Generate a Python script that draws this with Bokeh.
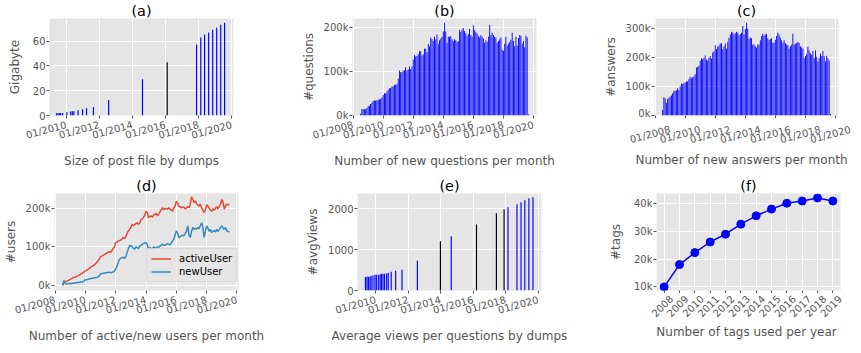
import math
import datetime as dt
import pandas as pd
from bokeh.plotting import figure
from bokeh.layouts import row, column
from bokeh.models import (Range1d, FixedTicker, CustomJSTickFormatter, PrintfTickFormatter)
from bokeh.core.properties import value
from bokeh.embed import file_html
from bokeh.resources import INLINE

# ---------------- data ----------------
# (a) size of the posts file per dump (GB)
size_dump_dates = ["2009-06-01", "2009-07-01", "2009-08-01", "2009-09-01", "2009-10-15",
                   "2010-01-15", "2010-04-10", "2010-05-15", "2010-06-20", "2010-09-20",
                   "2010-12-28", "2011-03-25", "2011-08-25", "2012-07-25", "2014-08-10",
                   "2016-02-05", "2017-11-15", "2018-02-15", "2018-05-10", "2018-08-08",
                   "2018-11-05", "2019-02-01", "2019-05-01", "2019-07-25"]
size_gb = [1.9, 1.9, 2.0, 2.0, 2.1, 2.7, 3.2, 3.4, 3.5, 4.3, 5.1, 5.9, 6.9, 12.5, 29.3,
           42.9, 57.3, 62.9, 65.3, 66.9, 69.3, 70.9, 73.3, 74.9]
size_dark_dumps = ["2016-02-05"]          # bars drawn in black in the original

# (b) new questions per month (thousands), Jul 2008 .. Sep 2019
month_first = "2008-07-01"
questions_k = [
    4, 15, 14, 14, 15, 17,
    21, 22, 26, 29, 33, 34, 34, 35, 36, 37, 38, 41,
    47, 51, 50, 55, 59, 62, 63, 66, 67, 70, 70, 72,
    84, 103, 99, 100, 102, 104, 110, 103, 105, 112, 106, 112,
    128, 138, 135, 136, 140, 147, 147, 137, 140, 153, 152, 145,
    163, 158, 178, 174, 170, 180, 174, 185, 164, 172, 176, 180,
    192, 212, 192, 166, 180, 180, 181, 174, 170, 174, 172, 168,
    170, 195, 191, 196, 200, 193, 188, 182, 186, 198, 184, 180,
    206, 195, 190, 187, 182, 178, 184, 180, 176, 166, 172, 168,
    180, 207, 183, 189, 184, 180, 178, 166, 170, 174, 178, 150,
    148, 164, 180, 159, 164, 168, 173, 189, 170, 158, 180, 160,
    177, 184, 182, 164, 170, 155, 182, 178, 3]

# (c) new answers per month (thousands), Jul 2008 .. Sep 2019
answers_k = [
    19, 63, 60, 44, 57, 61,
    66, 69, 77, 85, 86, 87, 94, 88, 100, 111, 109, 112,
    115, 118, 118, 125, 134, 129, 132, 136, 143, 166, 168, 172,
    189, 198, 195, 200, 208, 194, 189, 200, 206, 197, 218, 222,
    243, 230, 238, 242, 249, 250, 229, 240, 249, 231, 255, 269,
    280, 290, 286, 281, 285, 290, 286, 278, 282, 286, 310, 281,
    300, 320, 301, 265, 270, 267, 246, 246, 240, 235, 246, 246,
    260, 275, 283, 277, 280, 283, 267, 261, 265, 267, 252, 252,
    262, 275, 286, 279, 270, 260, 252, 260, 250, 246, 243, 231,
    240, 246, 283, 246, 248, 251, 255, 251, 240, 235, 231, 200,
    206, 212, 238, 226, 215, 210, 223, 200, 226, 203, 187, 200,
    214, 206, 223, 205, 187, 207, 198, 190, 5]

# (d) active / new users per month (thousands), Jul 2008 .. Jul 2019
active_user_k = [
    2, 8, 10, 11, 12, 14,
    16, 18, 20, 21, 22, 24, 25, 27, 29, 31, 33, 35,
    38, 40, 42, 44, 47, 49, 51, 53, 56, 60, 63, 68,
    75, 76, 78, 80, 82, 84, 86, 87, 86, 90, 96, 100,
    111, 112, 115, 116, 118, 120, 124, 122, 126, 135, 141, 145,
    150, 158, 155, 157, 160, 162, 158, 162, 170, 172, 176, 182,
    192, 188, 175, 178, 180, 176, 182, 184, 186, 180, 184, 190,
    195, 201, 196, 199, 198, 197, 201, 197, 195, 192, 200, 205,
    218, 212, 205, 203, 200, 203, 202, 198, 200, 204, 201, 210,
    229, 222, 214, 218, 212, 208, 205, 210, 200, 195, 188, 195,
    209, 205, 200, 195, 192, 198, 194, 200, 203, 198, 205, 210,
    222, 215, 197, 205, 210, 209, 207]
new_user_k = [
    0, 13, 5, 4, 4, 5,
    5, 5, 6, 6, 7, 7, 8, 8, 9, 9, 10, 12,
    15, 15, 16, 17, 18, 18, 19, 20, 20, 21, 22, 25,
    30, 31, 32, 32, 33, 33, 34, 34, 33, 34, 35, 37,
    43, 50, 60, 68, 70, 72, 73, 70, 75, 85, 95, 103,
    103, 100, 96, 94, 100, 98, 95, 102, 104, 106, 108, 110,
    111, 105, 94, 98, 96, 95, 100, 97, 98, 100, 98, 102,
    104, 107, 105, 103, 106, 108, 107, 105, 110, 115, 120, 130,
    141, 135, 124, 126, 128, 130, 128, 135, 140, 154, 130, 124,
    140, 150, 145, 148, 145, 150, 147, 155, 162, 150, 124, 140,
    154, 148, 140, 145, 137, 140, 142, 138, 145, 140, 145, 150,
    154, 148, 145, 150, 141, 140, 138]

# (e) average views per question by dump
views_dump_dates = ["2009-05-15", "2009-06-20", "2009-07-20", "2009-08-25", "2009-09-20",
                    "2009-11-01", "2009-12-15", "2010-01-15", "2010-03-01", "2010-04-10",
                    "2010-05-10", "2010-06-15", "2010-07-20", "2010-09-05", "2010-10-10",
                    "2010-12-15", "2011-03-25", "2011-08-15", "2012-07-25", "2013-12-25",
                    "2014-08-25", "2016-03-15", "2017-06-05", "2017-11-25", "2018-02-20",
                    "2018-09-10", "2018-12-10", "2019-03-05", "2019-06-05", "2019-09-05"]
avg_views = [330, 336, 336, 340, 360, 369, 385, 385, 385, 395, 410, 410, 410, 418, 434,
             459, 484, 508, 730, 1205, 1328, 1615, 1893, 1992, 2041, 2115, 2164, 2213,
             2262, 2287]
views_dark_dumps = ["2013-12-25", "2016-03-15", "2017-06-05", "2017-11-25"]

# (f) number of tags used per year (thousands)
tag_years = [2008, 2009, 2010, 2011, 2012, 2013, 2014, 2015, 2016, 2017, 2018, 2019]
tags_k = [10.0, 18.0, 22.3, 26.1, 28.9, 32.5, 35.5, 37.9, 40.0, 40.8, 41.9, 40.8]

# ---------------- styling helpers ----------------
FONT = "DejaVu Sans"
BG = "#E5E5E5"
GREY = "#555555"
BLUE = "#0000FF"
RED = "#E24A33"
LBLUE = "#348ABD"
DAY_MS = 86400000.0
ROT = math.radians(15)


def yr(f):
    y = int(math.floor(f))
    a = dt.datetime(y, 1, 1)
    b = dt.datetime(y + 1, 1, 1)
    return a + (b - a) * (f - y)


def ms(d):
    return (d - dt.datetime(1970, 1, 1)).total_seconds() * 1000.0


def xr(a, b):
    return Range1d(ms(yr(a)), ms(yr(b)))


TICK_YEARS = list(range(2008, 2021, 2))
DATE_TICKS = [ms(dt.datetime(y, 1, 1)) for y in TICK_YEARS]
DATE_LABELS = ["01/%d" % y for y in TICK_YEARS]
DATE_FMT = """
const d = new Date(tick);
const m = String(d.getUTCMonth() + 1).padStart(2, '0');
return m + '/' + d.getUTCFullYear();
"""

FW, FH = 184, 97
COL = [(49, 65), (49, 64), (49, 17)]
ROW = [(16, 59), (19, 49)]
STRIP_H = [56, 46]
STRIP_EXTRA = 8          # strip may run into the page's right margin


def style_axis(ax):
    ax.axis_line_color = None
    ax.major_tick_line_color = GREY
    ax.major_tick_out = 3
    ax.major_tick_in = 0
    ax.minor_tick_line_color = None
    ax.major_label_text_font = FONT
    ax.major_label_text_font_size = "10px"
    ax.major_label_text_color = GREY
    ax.axis_label_text_font = FONT
    ax.axis_label_text_font_size = "12px"
    ax.axis_label_text_color = GREY
    ax.axis_label_text_font_style = "normal"


def make_fig(title, xlabel, ylabel, x_range, y_range, col, rw, ylab_standoff=5,
             datetime=True, strip=False):
    bl, br = COL[col]
    bt, bb = ROW[rw]
    if strip:
        bb = 3
    kw = dict(x_axis_type="datetime") if datetime else {}
    p = figure(frame_width=FW, frame_height=FH, x_range=x_range, y_range=y_range,
               output_backend="svg", toolbar_location=None, frame_align=False,
               min_border_left=bl, min_border_right=br, min_border_top=bt,
               min_border_bottom=bb, background_fill_color=BG,
               border_fill_color="white", outline_line_color=None, title=title, **kw)
    p.title.align = "center"
    p.title.text_font = FONT
    p.title.text_font_size = "14.4px"
    p.title.text_font_style = "normal"
    p.title.text_color = "black"
    p.title.standoff = 0
    p.grid.grid_line_color = "white"
    p.grid.grid_line_width = 1
    for ax in p.axis:
        style_axis(ax)
    p.yaxis.major_label_standoff = 1
    p.yaxis.axis_label_standoff = ylab_standoff
    p.yaxis.axis_label = ylabel
    if strip:
        # tick marks only; the labels are drawn centred in a strip below
        p.xaxis.major_label_text_color = None
        p.xaxis.major_label_standoff = 0
        p.xaxis.axis_label_standoff = 0
    else:
        p.xaxis.major_label_standoff = 6
        p.xaxis.axis_label_standoff = 5
        p.xaxis.axis_label = xlabel
    if datetime:
        p.xaxis.ticker = FixedTicker(ticks=DATE_TICKS)
        p.xaxis.formatter = CustomJSTickFormatter(code=DATE_FMT)
        p.xaxis.major_label_orientation = ROT
    return p


def make_strip(main, col, rw, ticks, labels, angle, lab_y, xlabel, xlab_y):
    """Blank strip under a panel: centred, rotated tick labels + the x label."""
    bl, br = COL[col]
    fig_w = bl + FW + br + STRIP_EXTRA
    h = STRIP_H[rw]
    xs, xe = main.x_range.start, main.x_range.end
    per_px = (xe - xs) / FW
    s0 = xs - bl * per_px
    s = figure(frame_width=fig_w, frame_height=h, x_range=Range1d(s0, s0 + fig_w * per_px),
               y_range=Range1d(h, 0), output_backend="svg", toolbar_location=None,
               frame_align=False, min_border=0, min_border_left=0, min_border_right=0,
               min_border_top=0, min_border_bottom=0,
               x_axis_location=None, y_axis_location=None,
               outline_line_color=None, background_fill_color="white",
               border_fill_color="white")
    for g in s.grid:
        g.visible = False
    s.text(x=ticks, y=[lab_y] * len(ticks), text=labels, angle=angle,
           text_align="center", text_baseline="middle", text_font=value(FONT),
           text_font_size="10px", text_color=GREY)
    s.text(x=[(xs + xe) / 2.0], y=[xlab_y], text=[xlabel], text_align="center",
           text_baseline="middle", text_font=value(FONT), text_font_size="12px",
           text_color=GREY)
    return s


def bar_colors(dates, dark):
    return ["black" if d in dark else BLUE for d in dates]


months_bc = pd.date_range(month_first, periods=len(questions_k), freq="MS")
months_d = pd.date_range(month_first, periods=len(active_user_k), freq="MS")

# (a)
pa = make_fig("(a)", "Size of post file by dumps", "Gigabyte",
              xr(2008.99, 2020.1), Range1d(0, 78.3), 0, 0, ylab_standoff=8)
pa.vbar(x=pd.to_datetime(size_dump_dates), top=size_gb, width=26 * DAY_MS,
        color=bar_colors(size_dump_dates, size_dark_dumps), line_color=None)
pa.yaxis.ticker = FixedTicker(ticks=[0, 20, 40, 60])

# (b)
pb = make_fig("(b)", "Number of new questions per month", "#questions",
              xr(2007.96, 2020.2), Range1d(0, 221.5), 1, 0)
pb.vbar(x=months_bc, top=questions_k, width=22 * DAY_MS, color=BLUE, line_color=None)
pb.yaxis.ticker = FixedTicker(ticks=[0, 100, 200])
pb.yaxis.formatter = PrintfTickFormatter(format="%dk")

# (c)
pc = make_fig("(c)", "", "#answers", xr(2007.96, 2020.2), Range1d(0, 335.6), 2, 0,
              strip=True)
pc.vbar(x=months_bc, top=answers_k, width=22 * DAY_MS, color=BLUE, line_color=None)
pc.yaxis.ticker = FixedTicker(ticks=[0, 100, 200, 300])
pc.yaxis.formatter = PrintfTickFormatter(format="%dk")
sc = make_strip(pc, 2, 0, DATE_TICKS, DATE_LABELS, ROT, 16,
                "Number of new answers per month", 41)

# (d)
pd_ = make_fig("(d)", "Number of active/new users per month", "#users",
               xr(2007.96, 2020.1), Range1d(-12.8, 237.6), 0, 1)
pd_.line(months_d, active_user_k, color=RED, line_width=1.5, legend_label="activeUser")
pd_.line(months_d, new_user_k, color=LBLUE, line_width=1.5, legend_label="newUser")
pd_.yaxis.ticker = FixedTicker(ticks=[0, 100, 200])
pd_.yaxis.formatter = PrintfTickFormatter(format="%dk")
lg = pd_.legend[0]
lg.location = (92, 8)
lg.margin = 0
lg.padding = 4
lg.spacing = 2
lg.glyph_width = 20
lg.glyph_height = 11
lg.label_height = 11
lg.label_standoff = 8
lg.label_text_font = FONT
lg.label_text_font_size = "10px"
lg.label_text_color = "black"
lg.background_fill_color = BG
lg.background_fill_alpha = 0.8
lg.border_line_color = "#CCCCCC"

# (e)
pe = make_fig("(e)", "Average views per questions by dumps", "#avgViews",
              xr(2008.88, 2020.2), Range1d(0, 2377), 1, 1)
pe.vbar(x=pd.to_datetime(views_dump_dates), top=avg_views, width=26 * DAY_MS,
        color=bar_colors(views_dump_dates, views_dark_dumps), line_color=None)
pe.yaxis.ticker = FixedTicker(ticks=[0, 1000, 2000])

# (f)
pf = make_fig("(f)", "", "#tags", Range1d(tag_years[0] - 0.5, tag_years[-1] + 0.5),
              Range1d(8.7, 43.5), 2, 1, ylab_standoff=8, datetime=False, strip=True)
pf.line(tag_years, tags_k, color=BLUE, line_width=1.5)
pf.scatter(tag_years, tags_k, size=8, color=BLUE)
pf.xaxis.ticker = FixedTicker(ticks=tag_years)
pf.yaxis.ticker = FixedTicker(ticks=[10, 20, 30, 40])
pf.yaxis.formatter = PrintfTickFormatter(format="%dk")
sf = make_strip(pf, 2, 1, tag_years, [str(y) for y in tag_years], math.radians(45), 12.5,
                "Number of tags used per year", 38)

layout = column(row(pa, pb, column(pc, sc)), row(pd_, pe, column(pf, sf)))

with open("out.html", "w") as fh:
    fh.write(file_html(layout, INLINE))
